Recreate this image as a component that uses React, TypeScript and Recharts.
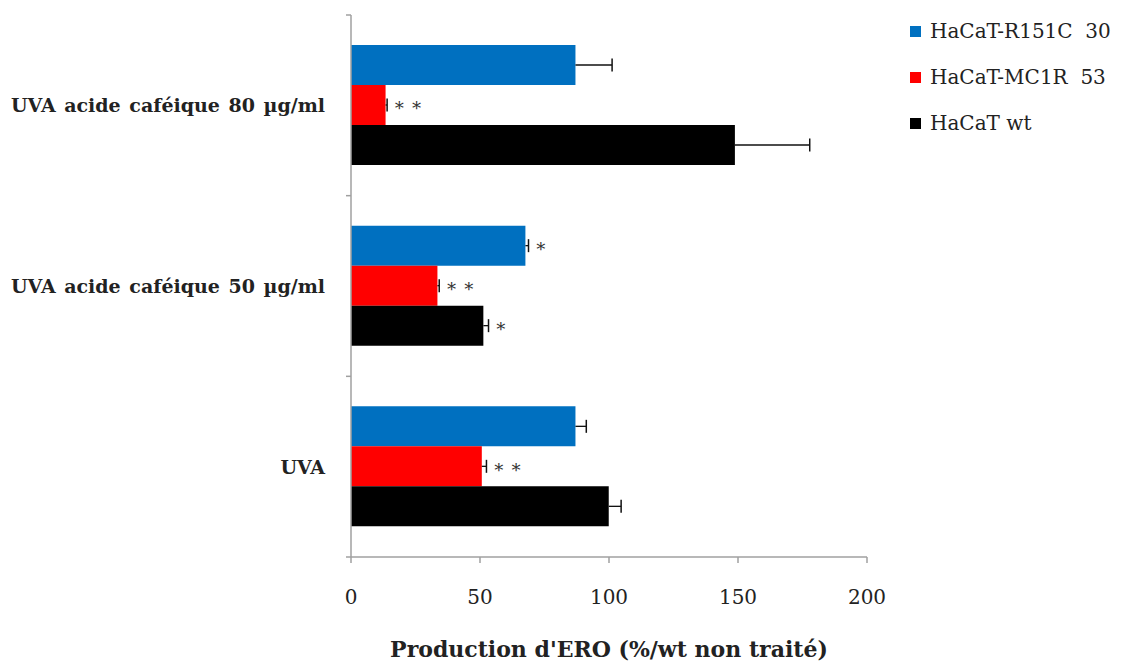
import React from "react";
import { BarChart, Bar, XAxis, YAxis, LabelList, Legend } from "recharts";

const categories = ["UVA acide caféique 80 µg/ml", "UVA acide caféique 50 µg/ml", "UVA"];
const seriesNames = ["HaCaT-R151C  30", "HaCaT-MC1R  53", "HaCaT wt"];
const r151cValues = [87, 67.6, 87];
const r151cErrors = [14.2, 1.2, 4.2];
const r151cSig = ["", "*", ""];
const mc1rValues = [13.4, 33.5, 50.7];
const mc1rErrors = [0.6, 0.7, 1.8];
const mc1rSig = ["**", "**", "**"];
const wtValues = [148.8, 51.3, 99.9];
const wtErrors = [29, 2, 4.8];
const wtSig = ["", "*", ""];
const xTicks = [0, 50, 100, 150, 200];
const xTitle = "Production d'ERO (%/wt non traité)";

const data = categories.map((c, i) => ({
  category: c,
  idx: i,
  r151c: r151cValues[i],
  mc1r: mc1rValues[i],
  wt: wtValues[i],
}));

const AXIS = "#a0a0a0";
const TEXT = "#222222";
const SERIF = "'DejaVu Serif', serif";
const Y_TICK_MARGIN = 26;

const makeWhisker = (values: number[], errors: number[], sigs: string[]) => (props: any) => {
  const vb = props.viewBox || {};
  const x = props.x ?? vb.x;
  const y = props.y ?? vb.y;
  const width = props.width ?? vb.width;
  const height = props.height ?? vb.height;
  const i = Number(props.value);
  const v = values[i];
  const e = errors[i];
  if (!v || width == null) return null;
  const k = width / v;
  const x0 = x + width;
  const x1 = x0 + e * k;
  const cy = y + height / 2;
  const sig = sigs[i];
  return (
    <g>
      <line x1={x0} y1={cy} x2={x1} y2={cy} stroke="#111" strokeWidth={1.3} />
      <line x1={x1} y1={cy - 6.5} x2={x1} y2={cy + 6.5} stroke="#111" strokeWidth={1.5} />
      {sig ? (
        <text
          x={x1 + 6}
          y={cy}
          dominantBaseline="central"
          fontFamily={SERIF}
          fontSize={18}
          fill="#333"
          letterSpacing={5}
        >
          {sig.replace(/\*/g, "∗")}
        </text>
      ) : null}
    </g>
  );
};

const YTick = (props: any) => {
  const { x, y, payload, index, visibleTicksCount } = props;
  const axisX = x + Y_TICK_MARGIN;
  const half = payload && typeof payload.offset === "number" ? payload.offset : 0;
  return (
    <g>
      <text
        x={x}
        y={y}
        textAnchor="end"
        dominantBaseline="central"
        fontFamily={SERIF}
        fontWeight="bold"
        fontSize={19}
        wordSpacing={2}
        fill={TEXT}
      >
        {payload.value}
      </text>
      {half ? <line x1={axisX - 5} x2={axisX} y1={y - half} y2={y - half} stroke={AXIS} strokeWidth={1.5} /> : null}
      {half && index === visibleTicksCount - 1 ? (
        <line x1={axisX - 5} x2={axisX} y1={y + half} y2={y + half} stroke={AXIS} strokeWidth={1.5} />
      ) : null}
    </g>
  );
};

const renderLegend = (props: any) => {
  const payload = [...(props.payload || [])];
  payload.sort(
    (a: any, b: any) => seriesNames.indexOf(a.value) - seriesNames.indexOf(b.value)
  );
  return (
    <div style={{ fontFamily: SERIF, fontSize: 20, color: TEXT }}>
      {payload.map((e: any, i: number) => (
        <div key={i} style={{ display: "flex", alignItems: "center", height: 46, whiteSpace: "pre" }}>
          <span
            style={{ display: "inline-block", width: 11, height: 11, background: e.color, marginRight: 9, flex: "none" }}
          />
          <span style={{ flex: "none" }}>{e.value}</span>
        </div>
      ))}
    </div>
  );
};

export default function App() {
  return (
    <div style={{ width: 1114, height: 655, background: "#fff" }}>
      <BarChart
        width={1114}
        height={655}
        data={data}
        layout="vertical"
        margin={{ top: 7, right: 255, bottom: 0, left: 0 }}
        barCategoryGap="16.6%"
        barGap={0}
      >
        <XAxis
          type="number"
          domain={[0, 200]}
          ticks={xTicks}
          interval={0}
          height={106}
          axisLine={{ stroke: AXIS, strokeWidth: 1.5 }}
          tickLine={{ stroke: AXIS, strokeWidth: 1.5 }}
          tickSize={6}
          tickMargin={27}
          tick={{ fontFamily: SERIF, fontSize: 20, fill: TEXT }}
          label={{
            value: xTitle,
            position: "insideBottom",
            offset: 6,
            style: { fontFamily: SERIF, fontWeight: "bold", fontSize: 22, fill: TEXT },
          }}
        />
        <YAxis
          type="category"
          dataKey="category"
          width={343}
          axisLine={{ stroke: AXIS, strokeWidth: 1.5 }}
          tickLine={false}
          tickSize={0}
          tickMargin={Y_TICK_MARGIN}
          tick={<YTick />}
          interval={0}
        />
        <Legend
          layout="vertical"
          align="center"
          verticalAlign="middle"
          wrapperStyle={{ left: 902, top: 0, width: 212 }}
          content={renderLegend}
        />
        <Bar dataKey="r151c" name={seriesNames[0]} fill="#0070C0" isAnimationActive={false}>
          <LabelList dataKey="idx" content={makeWhisker(r151cValues, r151cErrors, r151cSig)} />
        </Bar>
        <Bar dataKey="mc1r" name={seriesNames[1]} fill="#FF0000" isAnimationActive={false}>
          <LabelList dataKey="idx" content={makeWhisker(mc1rValues, mc1rErrors, mc1rSig)} />
        </Bar>
        <Bar dataKey="wt" name={seriesNames[2]} fill="#000000" isAnimationActive={false}>
          <LabelList dataKey="idx" content={makeWhisker(wtValues, wtErrors, wtSig)} />
        </Bar>
      </BarChart>
    </div>
  );
}
